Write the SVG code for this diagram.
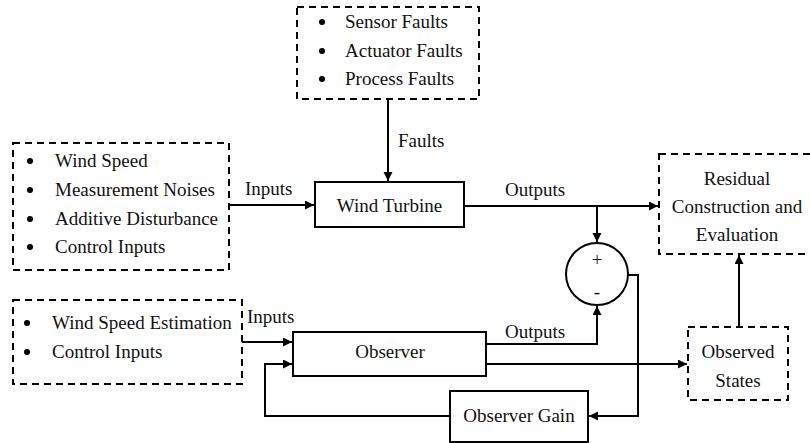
<svg xmlns="http://www.w3.org/2000/svg" width="810" height="443" viewBox="0 0 810 443">
<defs>
<marker id="arr" markerUnits="userSpaceOnUse" markerWidth="10" markerHeight="10" refX="9" refY="4.5" orient="auto">
<path d="M0,0 L9,4.5 L0,9 Z" fill="#000"/>
</marker>
<style>
.t{font-family:'Liberation Serif', 'Times New Roman', serif;font-size:19px;fill:#111;}
.c{text-anchor:middle;}
.box{fill:#fff;stroke:#000;stroke-width:2;}
.dash{fill:#fff;stroke:#000;stroke-width:2;stroke-dasharray:7 5;}
.ln{fill:none;stroke:#000;stroke-width:2;}
.b{fill:#000;}
</style>
</defs>
<rect width="810" height="443" fill="#fff"/>

<g id="faults-box">
<rect class="dash" x="297" y="7" width="182" height="92"/>
<circle class="b" cx="322" cy="22" r="3"/>
<circle class="b" cx="322" cy="51" r="3"/>
<circle class="b" cx="322" cy="79" r="3"/>
<text class="t" x="345" y="28">Sensor Faults</text>
<text class="t" x="345" y="57">Actuator Faults</text>
<text class="t" x="345" y="85">Process Faults</text>
</g>

<g id="inputs-box">
<rect class="dash" x="13" y="143" width="216" height="127"/>
<circle class="b" cx="30" cy="161" r="3"/>
<circle class="b" cx="30" cy="190" r="3"/>
<circle class="b" cx="30" cy="219" r="3"/>
<circle class="b" cx="30" cy="247" r="3"/>
<text class="t" x="55" y="167">Wind Speed</text>
<text class="t" x="55" y="196">Measurement Noises</text>
<text class="t" x="55" y="225">Additive Disturbance</text>
<text class="t" x="55" y="253">Control Inputs</text>
</g>

<g id="observer-inputs-box">
<rect class="dash" x="13" y="300" width="229" height="84"/>
<circle class="b" cx="27" cy="323" r="3"/>
<circle class="b" cx="27" cy="352" r="3"/>
<text class="t" x="52" y="329">Wind Speed Estimation</text>
<text class="t" x="52" y="358">Control Inputs</text>
</g>

<g id="wind-turbine">
<rect class="box" x="315" y="182" width="149" height="45"/>
<text class="t c" x="389.5" y="212">Wind Turbine</text>
</g>

<g id="residual">
<rect class="dash" x="659" y="154" width="155" height="100"/>
<text class="t c" x="737" y="185">Residual</text>
<text class="t c" x="737" y="213">Construction and</text>
<text class="t c" x="737" y="241">Evaluation</text>
</g>

<g id="sum">
<circle cx="597" cy="274" r="31" fill="#fff" stroke="#000" stroke-width="2"/>
<text class="t c" x="597" y="266">+</text>
<text class="t c" x="597" y="298">-</text>
</g>

<g id="observer">
<rect class="box" x="293" y="332" width="193" height="44"/>
<text class="t c" x="390" y="358">Observer</text>
</g>

<g id="observer-gain">
<rect class="box" x="450" y="391" width="138" height="51"/>
<text class="t c" x="519" y="422">Observer Gain</text>
</g>

<g id="observed-states">
<rect class="dash" x="688" y="327" width="100" height="73"/>
<text class="t c" x="738" y="358">Observed</text>
<text class="t c" x="738" y="387">States</text>
</g>

<g id="connectors">
<path class="ln" d="M388,99 V181" marker-end="url(#arr)"/>
<path class="ln" d="M229,205 H314" marker-end="url(#arr)"/>
<path class="ln" d="M464,206 H658" marker-end="url(#arr)"/>
<path class="ln" d="M597,206 V242" marker-end="url(#arr)"/>
<path class="ln" d="M628,275 H638 V416 H589" marker-end="url(#arr)"/>
<path class="ln" d="M242,342 H292" marker-end="url(#arr)"/>
<path class="ln" d="M486,344 H597 V306" marker-end="url(#arr)"/>
<path class="ln" d="M486,364 H687" marker-end="url(#arr)"/>
<path class="ln" d="M450,416 H265 V364 H292" marker-end="url(#arr)"/>
<path class="ln" d="M739,327 V255" marker-end="url(#arr)"/>
<text class="t" x="398" y="147">Faults</text>
<text class="t" x="245" y="195">Inputs</text>
<text class="t" x="505" y="196">Outputs</text>
<text class="t" x="247" y="323">Inputs</text>
<text class="t" x="505" y="338">Outputs</text>
</g>
</svg>
